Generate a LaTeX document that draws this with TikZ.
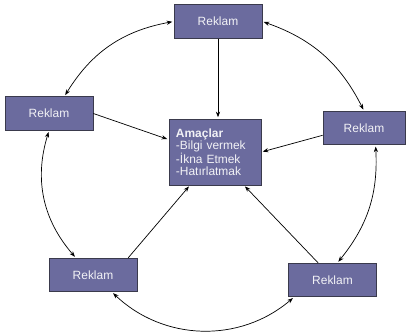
\documentclass[tikz,border=0pt]{standalone}
\usepackage{fontspec}
\setmainfont{Liberation Sans}
\usetikzlibrary{arrows.meta}
\definecolor{boxfill}{HTML}{6B6B9E}
\definecolor{boxline}{HTML}{3A3A4C}
\definecolor{boxtext}{HTML}{F2F2F6}

\begin{document}
\begin{tikzpicture}[x=0.025cm,y=-0.025cm,
  ad/.style={draw=boxline,fill=boxfill,text=boxtext,line width=.5pt,
    minimum width=2.2cm,minimum height=.84cm,inner sep=0pt,
    font=\fontsize{8.5}{10}\selectfont},
  goal/.style={draw=boxline,fill=boxfill,text=boxtext,line width=.5pt,
    minimum width=2.3cm,minimum height=1.65cm,inner sep=5pt,text width=1.95cm,
    align=left,font=\fontsize{8.5}{8.6}\selectfont},
  flow/.style={draw=black,line width=.5pt,shorten >=1pt,
    -{Stealth[length=4pt,width=3pt]}},
  link/.style={flow,shorten <=1pt,
    {Stealth[length=4pt,width=3pt]}-{Stealth[length=4pt,width=3pt]}}
]
\useasboundingbox (0,0) rectangle (407,331);

\node[goal] (goals) at (215,152)
  {\textbf{Amaçlar}\\-Bilgi vermek\\-İkna Etmek\\-Hatırlatmak};

\node[ad] (rtop) at (218,21.5) {Reklam};
\node[ad] (rleft) at (49,113.5) {Reklam};
\node[ad,minimum width=2.05cm] (rright) at (364,128) {Reklam};
\node[ad] (rbleft) at (93,275) {Reklam};
\node[ad] (rbright) at (332.5,280) {Reklam};

\draw[flow] (rtop.south) -- (rtop.south |- goals.north);
\draw[flow] (rleft.east) -- (goals.165);
\draw[flow] (rright.190) -- (goals.east);
\draw[flow] (rbleft.26) -- (goals.233);
\draw[flow] (rbright.130) -- (goals.311);

\draw[link] (rtop.west) to[bend right=24] (rleft.48);
\draw[link] (rtop.east) to[bend left=22] (rright.north);
\draw[link] (rright.304) to[bend left=21] (rbright.74);
\draw[link] (rbright.204) to[bend left=42] (rbleft.318);
\draw[link] (rbleft.135) to[bend left=29] (rleft.south);
\end{tikzpicture}
\end{document}
